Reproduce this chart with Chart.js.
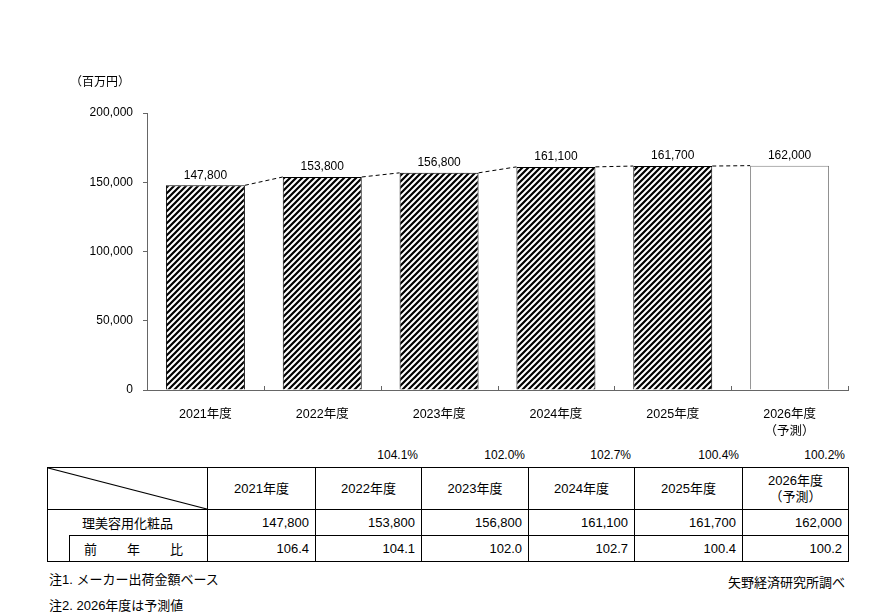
<!DOCTYPE html>
<html lang="ja">
<head>
  <meta charset="UTF-8">
  <title>理美容用化粧品 市場規模推移</title>
  <script src="https://cdn.jsdelivr.net/npm/chart.js"></script>
  <style>
    html, body {
      margin: 0;
      padding: 0;
      background: #fff;
      font-family: 'Liberation Sans', 'Noto Sans CJK JP', sans-serif;
      color: #000;
    }
    .page { position: relative; width: 896px; height: 615px; overflow: hidden; }
    .chart-box { position: absolute; left: 0; top: 0; width: 896px; height: 440px; }
    .unit { position: absolute; left: 70px; top: 72px; font-size: 12px; }
    .pct { position: absolute; top: 448px; font-size: 12px; text-align: right; width: 80px; }
    table.data {
      position: absolute; left: 47px; top: 467px;
      border-collapse: collapse; table-layout: fixed; width: 801px;
      font-size: 13px;
    }
    table.data td { border: 1px solid #000; padding: 0 6px; white-space: nowrap; }
    table.data tr.head td { height: 41px; text-align: center; line-height: 16px; }
    table.data tr.row td { height: 25px; text-align: right; }
    table.data tr.head td.corner {
      background: url("data:image/svg+xml;utf8,<svg xmlns='http://www.w3.org/2000/svg' width='160' height='42' preserveAspectRatio='none' viewBox='0 0 160 42'><line x1='0' y1='0' x2='160' y2='42' stroke='black' stroke-width='1.2'/></svg>") no-repeat 0 0 / 100% 100%;
    }
    table.data tr.row td.name { text-align: center; border-bottom: none; padding: 0; }
    table.data tr.row td.indent { border-top: none; }
    table.data tr.row td.ratio-name { text-align: left; padding: 0 24px 0 14px; }
    .spread { display: flex; justify-content: space-between; }
    .note { position: absolute; font-size: 13px; }
  </style>
</head>
<body>
<div class="page">
  <div class="chart-box"><canvas id="marketChart"></canvas></div>
  <div class="unit">（百万円）</div>
  <table class="data" id="dataTable"></table>
  <div class="note" style="left:49px; top:569px;">注1. メーカー出荷金額ベース</div>
  <div class="note" style="left:49px; top:595px;">注2. 2026年度は予測値</div>
  <div class="note" style="right:51px; top:572px;">矢野経済研究所調べ</div>
</div>

<script>
  // data
  const years = ['2021年度', '2022年度', '2023年度', '2024年度', '2025年度', '2026年度'];
  const forecastNote = '（予測）';
  const sales = [147800, 153800, 156800, 161100, 161700, 162000];
  const yoyRatio = [106.4, 104.1, 102.0, 102.7, 100.4, 100.2];
  const productName = '理美容用化粧品';
  const ratioName = ['前', '年', '比'];
  const yMax = 200000;
  const yStep = 50000;

  const axisColor = '#666';
  const fontFamily = "'Liberation Sans', 'Noto Sans CJK JP', sans-serif";
  const fmt = v => v.toLocaleString('en-US');

  // last year is a forecast: two-line label, plain white bar
  const xLabels = years.map((y, i) => i === years.length - 1 ? [y, forecastNote] : y);

  // diagonal hatch pattern for actual values
  function makeHatch() {
    const s = 6;
    const c = document.createElement('canvas');
    c.width = s; c.height = s;
    const g = c.getContext('2d');
    g.fillStyle = '#fff';
    g.fillRect(0, 0, s, s);
    g.strokeStyle = '#000';
    g.lineWidth = 2.2;
    g.beginPath();
    g.moveTo(0, s); g.lineTo(s, 0);
    g.moveTo(-1, 1); g.lineTo(1, -1);
    g.moveTo(s - 1, s + 1); g.lineTo(s + 1, s - 1);
    g.stroke();
    return g.createPattern(c, 'repeat');
  }
  const hatch = makeHatch();
  const isForecast = i => i === sales.length - 1;

  // dashed connectors, value labels, inward ticks on the category axis
  const overlayPlugin = {
    id: 'overlay',
    afterDatasetsDraw(chart) {
      const ctx = chart.ctx;
      const meta = chart.getDatasetMeta(0);
      const xs = chart.scales.x;
      ctx.save();

      ctx.strokeStyle = '#000';
      ctx.lineWidth = 1;
      ctx.setLineDash([4, 3]);
      for (let i = 0; i < meta.data.length - 1; i++) {
        const a = meta.data[i], b = meta.data[i + 1];
        ctx.beginPath();
        ctx.moveTo(a.x + a.width / 2, a.y);
        ctx.lineTo(b.x - b.width / 2, b.y);
        ctx.stroke();
      }
      ctx.setLineDash([]);

      ctx.fillStyle = '#000';
      ctx.font = '12px ' + fontFamily;
      ctx.textAlign = 'center';
      ctx.textBaseline = 'bottom';
      meta.data.forEach((bar, i) => ctx.fillText(fmt(sales[i]), bar.x, bar.y - 4));

      ctx.strokeStyle = axisColor;
      const bottom = chart.chartArea.bottom;
      for (let i = 1; i <= sales.length; i++) {
        const px = i < sales.length
          ? (xs.getPixelForValue(i - 1) + xs.getPixelForValue(i)) / 2
          : xs.right;
        ctx.beginPath();
        ctx.moveTo(Math.round(px) + 0.5, bottom);
        ctx.lineTo(Math.round(px) + 0.5, bottom - 4);
        ctx.stroke();
      }
      ctx.restore();
    }
  };

  new Chart(document.getElementById('marketChart'), {
    type: 'bar',
    data: {
      labels: xLabels,
      datasets: [{
        data: sales,
        backgroundColor: sales.map((v, i) => isForecast(i) ? '#fff' : hatch),
        borderColor: sales.map((v, i) => isForecast(i) ? '#808080' : '#000'),
        borderWidth: 1,
        borderSkipped: 'bottom',
        categoryPercentage: 1,
        barPercentage: 0.676
      }]
    },
    options: {
      responsive: true,
      maintainAspectRatio: false,
      animation: false,
      layout: { padding: { top: 113, right: 48, left: 0, bottom: 0 } },
      plugins: { legend: { display: false }, tooltip: { enabled: false } },
      scales: {
        x: {
          grid: { display: false },
          border: { color: axisColor, width: 1 },
          ticks: {
            color: '#000',
            padding: 8,
            maxRotation: 0,
            font: { size: 12.5, family: fontFamily, lineHeight: 1.35 }
          },
          afterFit: s => { s.height = 50; }
        },
        y: {
          min: 0,
          max: yMax,
          grid: { drawOnChartArea: false, drawTicks: true, tickLength: 4, color: axisColor },
          border: { color: axisColor, width: 1 },
          ticks: {
            stepSize: yStep,
            color: '#000',
            padding: 10,
            font: { size: 12, family: fontFamily },
            callback: v => fmt(v)
          },
          afterFit: s => { s.width = 147; }
        }
      }
    },
    plugins: [overlayPlugin]
  });

  // year-on-year percentages above the table (2022 onward)
  const colEdges = [207, 315, 421, 528, 634, 742, 848];
  const page = document.querySelector('.page');
  yoyRatio.slice(1).forEach((r, i) => {
    const d = document.createElement('div');
    d.className = 'pct';
    d.textContent = r.toFixed(1) + '%';
    d.style.left = (colEdges[i + 2] - 3 - 80) + 'px';
    page.appendChild(d);
  });

  // summary table
  const colWidths = [22, 138, 108, 106, 107, 106, 108, 106];
  let html = '<colgroup>' + colWidths.map(w => `<col style="width:${w}px">`).join('') + '</colgroup>';
  html += '<tr class="head"><td class="corner" colspan="2"></td>' +
    years.map((y, i) => `<td>${isForecast(i) ? y + '<br>' + forecastNote : y}</td>`).join('') + '</tr>';
  html += `<tr class="row"><td class="name" colspan="2">${productName}</td>` +
    sales.map(v => `<td>${fmt(v)}</td>`).join('') + '</tr>';
  html += '<tr class="row"><td class="indent"></td><td class="ratio-name"><div class="spread">' +
    ratioName.map(c => `<span>${c}</span>`).join('') + '</div></td>' +
    yoyRatio.map(v => `<td>${v.toFixed(1)}</td>`).join('') + '</tr>';
  document.getElementById('dataTable').innerHTML = html;
</script>
</body>
</html>
